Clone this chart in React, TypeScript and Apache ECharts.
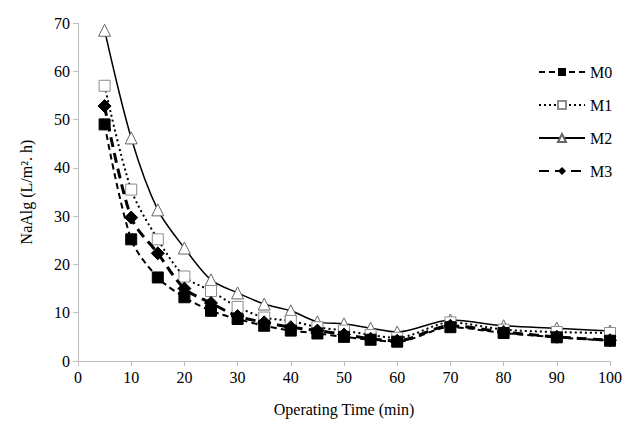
import React, { useEffect, useRef } from "react";
import * as echarts from "echarts";

const times = [5, 10, 15, 20, 25, 30, 35, 40, 45, 50, 55, 60, 70, 80, 90, 100];
const m0 = [49, 25.2, 17.3, 13.2, 10.4, 8.7, 7.3, 6.3, 5.7, 5.0, 4.4, 4.0, 7.0, 5.8, 4.9, 4.2];
const m1 = [57, 35.5, 25.2, 17.5, 14.5, 11.2, 9.0, 8.3, 7.0, 6.3, 5.4, 4.8, 8.0, 6.5, 6.0, 5.8];
const m2 = [68.5, 46.2, 31.3, 23.4, 16.8, 14.1, 11.8, 10.4, 8.1, 7.7, 6.8, 6.0, 8.5, 7.3, 6.8, 6.2];
const m3 = [52.8, 29.7, 22.3, 15.0, 12.0, 9.3, 8.0, 7.0, 6.3, 5.5, 4.6, 4.2, 7.3, 6.0, 5.0, 4.3];
const seriesNames = ["M0", "M1", "M2", "M3"];

const font = "'Liberation Serif', 'Times New Roman', serif";

export default function App() {
  const ref = useRef<HTMLDivElement>(null);
  useEffect(() => {
    if (!ref.current) return;
    const chart = echarts.init(ref.current, null, { renderer: "svg" });
    const pair = (vals: number[]) => times.map((t, i) => [t, vals[i]]);
    chart.setOption({
      animation: false,
      backgroundColor: "#fff",
      grid: { left: 78, right: 27, top: 23, bottom: 67 },
      legend: {
        orient: "vertical",
        left: 533,
        top: 59,
        itemWidth: 46,
        itemHeight: 10,
        itemGap: 17,
        data: seriesNames,
        textStyle: { fontFamily: font, fontSize: 16, color: "#000" },
      },
      xAxis: {
        type: "value",
        min: 0,
        max: 100,
        interval: 10,
        name: "Operating Time (min)",
        nameLocation: "middle",
        nameGap: 40,
        nameTextStyle: { fontFamily: font, fontSize: 16, color: "#000" },
        axisLine: { show: true, lineStyle: { color: "#bfbfbf", width: 1 } },
        axisTick: { show: true, length: 5, lineStyle: { color: "#bfbfbf" } },
        axisLabel: { fontFamily: font, fontSize: 16, color: "#000", margin: 8 },
        splitLine: { show: false },
      },
      yAxis: {
        type: "value",
        min: 0,
        max: 70,
        interval: 10,
        name: "NaAlg (L/m². h)",
        nameLocation: "middle",
        nameGap: 44,
        nameRotate: 90,
        nameTextStyle: { fontFamily: font, fontSize: 16, color: "#000" },
        axisLine: { show: true, lineStyle: { color: "#bfbfbf", width: 1 } },
        axisTick: { show: true, length: 5, lineStyle: { color: "#bfbfbf" } },
        axisLabel: { fontFamily: font, fontSize: 16, color: "#000", margin: 8 },
        splitLine: { show: false },
      },
      series: [
        {
          name: "M0",
          type: "line",
          data: pair(m0),
          smooth: 0.3,
          symbol: "rect",
          symbolSize: 11,
          itemStyle: { color: "#000", borderColor: "#000" },
          lineStyle: { color: "#000", width: 2, type: [6, 4] },
          z: 4,
        },
        {
          name: "M1",
          type: "line",
          data: pair(m1),
          smooth: 0.3,
          symbol: "rect",
          symbolSize: 11,
          itemStyle: { color: "#fff", borderColor: "#8c8c8c", borderWidth: 1 },
          lineStyle: { color: "#000", width: 2, type: [2, 3] },
          z: 2,
        },
        {
          name: "M2",
          type: "line",
          data: pair(m2),
          smooth: 0.3,
          symbol: "triangle",
          symbolSize: 12,
          itemStyle: { color: "#fff", borderColor: "#666", borderWidth: 1 },
          lineStyle: { color: "#000", width: 1.5, type: "solid" },
          z: 1,
        },
        {
          name: "M3",
          type: "line",
          data: pair(m3),
          smooth: 0.3,
          symbol: "diamond",
          symbolSize: 13,
          itemStyle: { color: "#000", borderColor: "#000" },
          lineStyle: { color: "#000", width: 3, type: [10, 6] },
          z: 3,
        },
      ],
    });
    return () => chart.dispose();
  }, []);
  return <div ref={ref} style={{ width: 637, height: 428, margin: -8 }} />;
}
